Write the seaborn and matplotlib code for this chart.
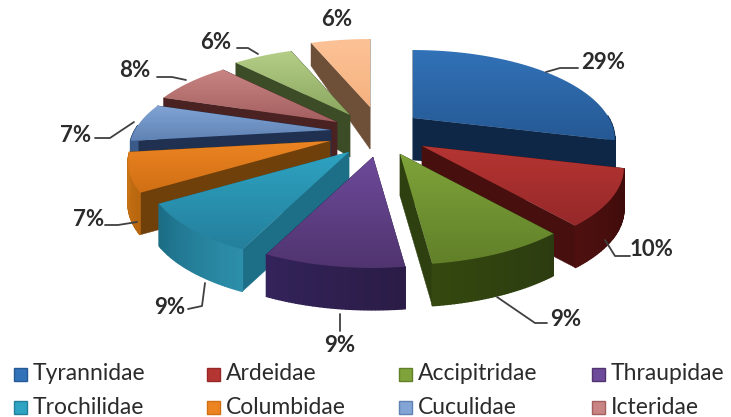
import numpy as np
import matplotlib
matplotlib.use("Agg")
import matplotlib.pyplot as plt
from matplotlib.patches import Polygon, Rectangle
import seaborn as sns

# Bird families named in the key, and the share of every slice (percent)
families = ["Tyrannidae", "Ardeidae", "Accipitridae", "Thraupidae",
            "Trochilidae", "Columbidae", "Cuculidae", "Icteridae"]
shares = [29, 10, 9, 9, 9, 7, 7, 8, 6, 6]

# Slice styling: top gradient (back, front), radial wall, rim wall (light, dark)
top_back = ["#3272b8", "#b53532", "#7fa33a", "#6d4a9a", "#2ea3c2",
            "#ec8422", "#82a5d6", "#c98583", "#b5cf88", "#fcc296"]
top_front = ["#255994", "#96282a", "#618029", "#50346f", "#247f9c",
             "#d06f14", "#5f82b4", "#a35f5f", "#8aa65f", "#f6b27f"]
wall_radial = ["#0e2747", "#47100e", "#2f4010", "#2a1c46", "#1d6f88",
               "#70400a", "#1f3050", "#4a2222", "#3c4c26", "#6e4f37"]
wall_rim = [("#0e2747", "#0e2747"), ("#3c0b0a", "#4d100f"), ("#2c3c10", "#34480f"),
            ("#2a1c46", "#33235a"), ("#2d8fab", "#1c6d86"), ("#b8660f", "#c97414"),
            ("#3a5a8a", "#3a5a8a"), ("#6d3a3a", "#6d3a3a"), ("#50662f", "#50662f"),
            ("#8a6a50", "#8a6a50")]

# Painter's order, far slices first
draw_order = [9, 8, 7, 6, 5, 4, 0, 1, 2, 3]

# How far each slice is pulled away from the pie centre, in screen pixels
pull_x = [38, 47, 25, -2, -26, -45, -44, -38, -25, -5]
pull_y = [-16, 12, 20, 23, 18, 7, -4, -12, -19, -27]

centre = (375.0, 134.0)
radius = 196.0
tilt = 0.43
persp = 0.24
depth = 42.0

sns.set_theme(style="white")
plt.rcParams["font.family"] = ["Lato", "DejaVu Sans"]

fig = plt.figure(figsize=(7.31, 4.17), dpi=100)
ax = fig.add_axes([0, 0, 1, 1])
ax.axis("off")


def project(ang):
    """Perspective map of a rim point, returned as a screen offset and wall height."""
    X, Y = np.cos(ang), np.sin(ang)
    s = 1.0 / (1.0 + persp * Y)
    return X * radius * s, -Y * radius * tilt * s, depth * np.minimum(s, 1.0) ** 3


def draw_slice(i, a0, a1, zbase):
    ax0 = centre[0] + pull_x[i]
    ay0 = centre[1] + pull_y[i]
    angs = np.radians(np.linspace(a0, a1, 40))
    dx, dy, h = project(angs)
    px, py = ax0 + dx, ay0 + dy

    # Radial walls
    for k in (0, -1):
        quad = [(ax0, ay0), (px[k], py[k]), (px[k], py[k] + h[k]), (ax0, ay0 + depth)]
        ax.add_patch(Polygon(quad, closed=True, fc=wall_radial[i], ec=wall_radial[i],
                             lw=0.3, zorder=zbase))

    # Rim wall, shaded along the arc
    rim = sns.blend_palette(list(wall_rim[i]), n_colors=len(angs) - 1)
    for k in range(len(angs) - 1):
        if np.sin(angs[k]) > 0.05:
            continue
        quad = [(px[k], py[k]), (px[k + 1], py[k + 1]),
                (px[k + 1], py[k + 1] + h[k + 1]), (px[k], py[k] + h[k])]
        ax.add_patch(Polygon(quad, closed=True, fc=rim[k], ec=rim[k], lw=1.0,
                             zorder=zbase + 0.1))

    # Top face with a vertical gradient clipped to the wedge
    verts = np.column_stack([np.r_[ax0, px], np.r_[ay0, py]])
    face = Polygon(verts, closed=True, fc="none", ec="none", zorder=zbase + 0.2)
    ax.add_patch(face)
    cmap = sns.blend_palette([top_back[i], top_front[i]], as_cmap=True)
    grad = np.linspace(0, 1, 128).reshape(-1, 1)
    img = ax.imshow(grad, cmap=cmap, aspect="auto", zorder=zbase + 0.2,
                    extent=(verts[:, 0].min(), verts[:, 0].max(),
                            verts[:, 1].max(), verts[:, 1].min()))
    img.set_clip_path(face)


# Slices run clockwise from twelve o'clock
edges = 90 - 3.6 * np.cumsum([0] + shares)
for n, i in enumerate(draw_order):
    draw_slice(i, edges[i], edges[i + 1], 2 + n)
ax.set_xlim(0, 731)
ax.set_ylim(417, 0)

# Value labels and their leader lines
label_xy = [(603, 62), (651, 250), (566, 319), (340, 345), (170, 307),
            (89, 219), (76, 135), (135, 70), (216, 42), (337, 19)]
leaders = [[(546, 72), (560, 68), (578, 68)],
           [(605, 240), (615, 256), (630, 256)],
           [(497, 297), (535, 323), (547, 323)],
           [(340, 314), (340, 331)],
           [(205, 283), (202, 306), (188, 309)],
           [(137, 222), (118, 225), (105, 225)],
           [(134, 122), (110, 138), (95, 138)],
           [(186, 80), (172, 77), (157, 77)],
           [(258, 54), (248, 48), (237, 48)],
           []]
for value, (lx, ly), path in zip(shares, label_xy, leaders):
    ax.text(lx, ly, f"{value}%", ha="center", va="center", fontsize=16,
            fontweight="bold", color="#2b2b2b", zorder=30)
    if path:
        xs, ys = zip(*path)
        ax.plot(xs, ys, color="#404040", lw=1.3, zorder=30)

# Key: four columns, two rows
for j, name in enumerate(families):
    col, row = j % 4, j // 4
    x0 = 14 + 192.5 * col
    y0 = 374 + 33 * row
    ax.add_patch(Rectangle((x0, y0 - 6.5), 13, 13, fc=top_back[j], ec=top_front[j], lw=1, zorder=30))
    ax.text(x0 + 19, y0, name, ha="left", va="center", fontsize=16.5,
            color="#2b2b2b", zorder=30)

fig.savefig("out.png", dpi=100, facecolor="white")
